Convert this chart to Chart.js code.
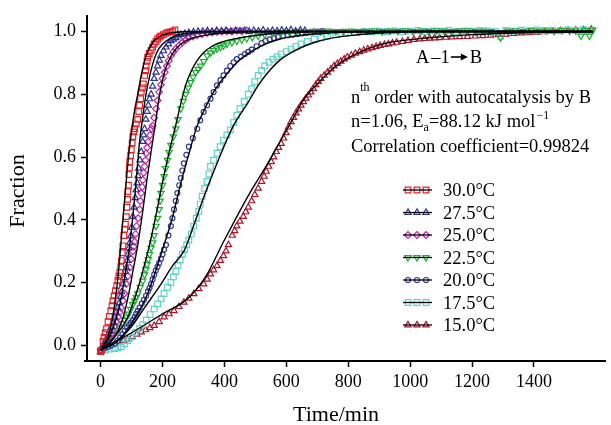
<!DOCTYPE html>
<html><head><meta charset="utf-8">
<script src="https://cdn.jsdelivr.net/npm/chart.js@4/dist/chart.umd.min.js"></script>
<style>html,body{margin:0;padding:0;background:#fff;}#wrap{width:611px;height:425px;position:relative;}</style>
</head><body><div id="wrap"><canvas id="c" width="611" height="425"></canvas></div>
<script>
// ---- data: [time/min, fraction] ----
const s30 = [[0,-0.02],[3,-0.016],[8,0.012],[11,0.026],[15,0.04],[19,0.053],[24,0.075],[28,0.092],[33,0.11],[37,0.126],[40,0.142],[44,0.158],[48,0.174],[52,0.19],[56,0.206],[59,0.22],[62,0.232],[65,0.25],[67,0.27],[70,0.295],[72,0.317],[75,0.35],[78,0.37],[80,0.386],[83,0.41],[85,0.44],[87,0.465],[88,0.49],[90,0.51],[91,0.544],[93,0.565],[94,0.585],[97,0.605],[99,0.623],[102,0.645],[104,0.665],[107,0.68],[110,0.69],[115,0.705],[120,0.72],[123,0.745],[126,0.765],[129,0.786],[131,0.807],[135,0.82],[138,0.833],[142,0.86],[145,0.875],[147,0.89],[150,0.905],[152,0.918],[157,0.93],[163,0.94],[168,0.95],[173,0.96],[179,0.968],[184,0.976],[190,0.982],[195,0.986],[203,0.99],[211,0.995],[218,0.997],[225,0.999],[232,1.0],[240,1.005]];
const s275 = [[0,-0.02],[5,-0.01],[10,0],[15,0.012],[20,0.022],[25,0.035],[30,0.047],[35,0.06],[40,0.073],[46,0.09],[50,0.105],[55,0.12],[60,0.135],[65,0.155],[68,0.17],[72,0.195],[76,0.215],[80,0.235],[83,0.248],[86,0.27],[88,0.29],[91,0.31],[94,0.327],[97,0.348],[100,0.375],[104,0.41],[108,0.44],[112,0.47],[115,0.495],[118,0.517],[121,0.54],[123,0.564],[127,0.59],[131,0.617],[136,0.649],[139,0.67],[142,0.69],[146,0.72],[150,0.745],[154,0.765],[158,0.785],[163,0.8],[168,0.825],[173,0.85],[179,0.87],[184,0.89],[190,0.908],[195,0.923],[203,0.938],[211,0.95],[219,0.96],[227,0.97],[235,0.975],[243,0.98],[251,0.985],[259,0.99],[272,0.993],[285,0.996],[300,0.998],[315,1.0],[330,1.0],[345,1.002],[360,1.0],[375,1.003],[390,1.001],[405,1.003],[420,1.0],[435,1.002],[450,1.001],[465,1.003],[480,1.0],[495,1.003],[510,1.001],[525,1.004],[540,1.0],[555,1.003],[570,1.001],[585,1.004],[600,1.002],[615,1.005],[630,1.001],[645,1.004],[660,1.003]];
const s25 = [[0,-0.015],[7,-0.005],[14,0.005],[20,0.015],[27,0.025],[34,0.035],[40,0.047],[46,0.062],[51,0.075],[56,0.09],[61,0.105],[66,0.12],[72,0.142],[77,0.165],[83,0.195],[88,0.22],[94,0.248],[99,0.275],[104,0.3],[107,0.315],[110,0.33],[113,0.355],[116,0.38],[121,0.405],[126,0.433],[128,0.46],[131,0.485],[134,0.505],[136,0.527],[139,0.55],[142,0.57],[145,0.59],[147,0.612],[150,0.63],[154,0.649],[160,0.67],[165,0.69],[168,0.7],[173,0.725],[179,0.754],[184,0.78],[189,0.807],[195,0.83],[200,0.85],[207,0.87],[214,0.89],[220,0.907],[227,0.923],[235,0.935],[243,0.945],[253,0.955],[264,0.965],[275,0.973],[285,0.98],[298,0.984],[312,0.988],[328,0.992],[344,0.995],[360,0.997],[376,0.999],[392,1.0],[408,1.001],[424,1.0],[440,1.002],[456,1.001],[472,1.003]];
const s225 = [[0,-0.015],[10,-0.005],[17,0.005],[24,0.016],[32,0.025],[40,0.033],[51,0.047],[60,0.058],[70,0.07],[78,0.08],[84,0.09],[90,0.1],[97,0.115],[104,0.13],[110,0.142],[115,0.153],[120,0.165],[128,0.185],[136,0.205],[142,0.225],[146,0.242],[150,0.258],[154,0.274],[158,0.29],[163,0.31],[168,0.327],[173,0.35],[179,0.38],[184,0.405],[189,0.433],[192,0.46],[195,0.485],[200,0.51],[205,0.538],[210,0.564],[216,0.59],[221,0.615],[227,0.638],[235,0.665],[243,0.69],[250,0.72],[259,0.754],[267,0.778],[275,0.8],[283,0.82],[291,0.838],[299,0.855],[307,0.87],[315,0.88],[323,0.89],[333,0.905],[344,0.923],[355,0.932],[365,0.94],[376,0.945],[387,0.95],[397,0.955],[408,0.96],[424,0.965],[440,0.97],[456,0.974],[472,0.978],[490,0.982],[509,0.986],[530,0.99],[555,0.994],[583,0.997],[610,0.998],[635,1.0],[660,0.999],[685,1.001],[710,1.0],[735,1.002],[760,1.0],[785,1.001],[810,1.002],[835,1.0],[860,1.001],[885,1.003],[910,1.0],[935,1.002],[960,1.001],[985,1.003],[1010,1.0],[1035,1.002],[1060,1.001],[1085,1.003],[1110,1.002],[1135,1.0],[1160,1.002],[1185,1.003],[1210,1.001],[1235,1.002],[1260,1.0],[1292,0.98],[1315,1.002],[1340,1.003],[1365,1.001],[1390,1.004],[1415,1.002],[1440,1.003],[1465,1.001],[1490,1.004],[1515,1.002],[1535,1.003],[1552,0.986],[1566,1.004],[1579,0.986],[1590,1.005]];
const s20 = [[0,-0.015],[12,-0.01],[25,-0.005],[35,0],[46,0.005],[55,0.015],[63,0.025],[70,0.035],[78,0.047],[85,0.057],[92,0.065],[98,0.072],[104,0.08],[110,0.09],[115,0.1],[120,0.11],[126,0.12],[133,0.133],[140,0.145],[147,0.158],[153,0.172],[158,0.183],[163,0.195],[168,0.21],[173,0.225],[178,0.238],[184,0.25],[189,0.262],[195,0.276],[200,0.29],[205,0.305],[211,0.32],[219,0.35],[227,0.38],[232,0.405],[237,0.433],[243,0.46],[248,0.485],[254,0.51],[259,0.533],[264,0.557],[269,0.58],[277,0.607],[285,0.633],[298,0.66],[312,0.69],[322,0.717],[333,0.744],[344,0.765],[355,0.786],[365,0.807],[376,0.828],[387,0.845],[397,0.86],[408,0.875],[419,0.89],[430,0.902],[440,0.912],[453,0.92],[466,0.928],[477,0.935],[488,0.942],[504,0.953],[520,0.963],[533,0.97],[546,0.975],[560,0.979],[573,0.983],[589,0.986],[605,0.988],[621,0.99],[637,0.992],[651,0.994],[665,0.996],[678,0.998],[690,1.0],[703,1.0],[715,1.001]];
const s175 = [[0,-0.02],[15,-0.015],[30,-0.012],[45,-0.01],[56,-0.008],[67,-0.005],[78,0.005],[88,0.015],[99,0.026],[112,0.04],[126,0.053],[136,0.066],[147,0.08],[160,0.098],[173,0.116],[184,0.132],[195,0.148],[205,0.165],[216,0.185],[227,0.2],[235,0.218],[243,0.236],[250,0.255],[257,0.272],[264,0.29],[271,0.305],[278,0.32],[285,0.335],[293,0.355],[301,0.38],[309,0.405],[317,0.427],[322,0.45],[328,0.475],[336,0.5],[344,0.522],[350,0.546],[355,0.57],[365,0.59],[376,0.612],[386,0.633],[397,0.654],[408,0.67],[419,0.686],[430,0.71],[440,0.733],[450,0.754],[464,0.777],[477,0.8],[488,0.817],[498,0.84],[509,0.86],[520,0.876],[530,0.89],[544,0.902],[557,0.912],[570,0.92],[583,0.928],[600,0.936],[615,0.944],[631,0.952],[647,0.96],[668,0.968],[690,0.976],[712,0.981],[733,0.986],[760,0.99],[790,0.994],[820,0.997],[850,1.0],[875,0.999],[900,1.001],[925,1.0],[950,1.002],[975,1.0],[1000,1.001],[1025,1.003],[1050,1.0],[1075,1.002],[1100,1.001],[1125,1.003],[1150,1.0],[1175,1.002],[1200,1.001],[1225,1.003],[1250,1.002],[1275,1.0],[1292,0.985],[1310,1.003],[1335,1.001],[1360,1.004],[1385,1.002],[1410,1.005],[1435,1.003],[1460,1.004],[1485,1.002],[1510,1.005],[1535,1.003],[1560,1.006],[1585,1.004]];
const s15 = [[0,-0.02],[14,-0.005],[30,0],[46,0.005],[60,0.01],[74,0.015],[88,0.02],[102,0.027],[117,0.035],[131,0.042],[145,0.049],[159,0.056],[173,0.063],[189,0.075],[205,0.09],[221,0.1],[237,0.11],[253,0.123],[269,0.137],[285,0.15],[301,0.164],[317,0.18],[333,0.195],[344,0.21],[355,0.227],[365,0.24],[376,0.253],[387,0.27],[397,0.285],[405,0.3],[413,0.32],[425,0.35],[433,0.365],[440,0.38],[450,0.395],[461,0.41],[469,0.425],[477,0.44],[488,0.46],[498,0.48],[509,0.5],[520,0.522],[528,0.538],[535,0.554],[543,0.57],[551,0.585],[559,0.6],[567,0.617],[575,0.63],[583,0.643],[591,0.66],[599,0.677],[607,0.695],[615,0.712],[623,0.726],[631,0.74],[639,0.753],[647,0.765],[655,0.776],[663,0.787],[671,0.797],[679,0.807],[687,0.818],[695,0.83],[703,0.84],[711,0.85],[722,0.86],[733,0.87],[744,0.88],[754,0.89],[765,0.898],[776,0.905],[787,0.912],[797,0.918],[810,0.924],[823,0.93],[837,0.935],[850,0.94],[863,0.944],[877,0.948],[890,0.952],[903,0.955],[917,0.958],[930,0.96],[943,0.963],[956,0.965],[975,0.968],[993,0.971],[1012,0.974],[1031,0.976],[1047,0.977],[1063,0.978],[1079,0.979],[1095,0.98],[1115,0.981],[1135,0.982],[1160,0.983],[1185,0.984],[1210,0.985],[1235,0.986],[1260,0.988],[1285,0.99],[1310,0.991],[1335,0.993],[1360,0.995],[1385,0.996],[1410,0.997],[1435,0.999],[1460,1.0],[1485,1.002],[1510,1.003],[1535,1.004],[1560,1.005],[1585,1.007]];

// fitted curves (model)
const fit30 = [[0,-0.015],[20,0.02],[35,0.069],[51,0.174],[62,0.28],[70,0.38],[80,0.49],[90,0.6],[101,0.69],[110,0.75],[120,0.8],[131,0.86],[147,0.923],[168,0.965],[195,0.986],[237,0.997],[300,1.0],[1590,1.0]];
const fit275 = [[0,-0.015],[30,0.03],[60,0.12],[80,0.23],[94,0.32],[110,0.47],[125,0.64],[135,0.72],[145,0.79],[160,0.865],[180,0.93],[200,0.96],[240,0.985],[300,0.997],[400,1.0],[1590,1.0]];
const fit25 = [[0,-0.015],[40,0.02],[70,0.08],[90,0.16],[105,0.24],[120,0.32],[135,0.42],[150,0.53],[165,0.63],[179,0.72],[189,0.79],[200,0.845],[211,0.885],[230,0.925],[248,0.95],[275,0.97],[301,0.98],[350,0.99],[420,0.997],[500,1.0],[1590,1.0]];
const fit225 = [[0,-0.015],[40,0.02],[88,0.09],[120,0.18],[140,0.25],[158,0.32],[180,0.42],[200,0.52],[220,0.61],[240,0.69],[259,0.77],[275,0.83],[291,0.87],[310,0.905],[333,0.933],[360,0.953],[387,0.965],[450,0.98],[493,0.986],[580,0.995],[700,1.0],[1590,1.0]];
const fit20 = [[0,-0.015],[50,0.01],[100,0.07],[150,0.16],[200,0.305],[230,0.4],[260,0.52],[285,0.61],[312,0.7],[335,0.75],[355,0.79],[380,0.83],[408,0.865],[450,0.91],[493,0.94],[540,0.963],[583,0.977],[640,0.987],[690,0.992],[800,0.998],[1000,1.0],[1590,1.0]];
const fit175 = [[0,-0.015],[60,0.02],[100,0.06],[142,0.12],[195,0.195],[230,0.25],[269,0.3],[280,0.325],[300,0.38],[340,0.49],[380,0.59],[429,0.7],[477,0.775],[509,0.828],[541,0.87],[583,0.912],[637,0.944],[690,0.965],[743,0.978],[797,0.986],[900,0.995],[1050,1.0],[1590,1.0]];
const fit15 = [[0,-0.015],[100,0.04],[200,0.1],[280,0.148],[340,0.22],[397,0.33],[440,0.41],[479,0.48],[540,0.58],[583,0.655],[620,0.72],[658,0.786],[711,0.844],[760,0.89],[850,0.94],[924,0.963],[1063,0.98],[1200,0.99],[1400,0.997],[1590,1.0]];

const seriesLabels = ['30.0°C','27.5°C','25.0°C','22.5°C','20.0°C','17.5°C','15.0°C'];
const xTicks = [0,200,400,600,800,1000,1200,1400];
const yTicks = [0.0,0.2,0.4,0.6,0.8,1.0];

const seriesData = [s30,s275,s25,s225,s20,s175,s15];
const fitData = [fit30,fit275,fit25,fit225,fit20,fit175,fit15];
const styles = [
  {color:'#E8202A', shape:'rect', r:4.0, rot:0},
  {color:'#2B318F', shape:'triangle', r:3.6, rot:0},
  {color:'#C41FA6', shape:'rectRot', r:3.4, rot:0},
  {color:'#14B02E', shape:'triangle', r:3.6, rot:180},
  {color:'#2F3A96', shape:'circle', r:2.5, rot:0},
  {color:'#5ED2CB', shape:'rect', r:4.0, rot:0},
  {color:'#A8142A', shape:'triangle', r:3.6, rot:0}
];

const datasets = [];
seriesData.forEach((s,i)=>{
  const st = styles[i];
  datasets.push({
    label: seriesLabels[i],
    data: s.map(p=>({x:p[0], y:p[1]})),
    showLine:false, order:1,
    pointStyle: st.shape, pointRadius: st.r, pointRotation: st.rot,
    pointBorderColor: st.color, pointBackgroundColor:'rgba(0,0,0,0)',
    pointBorderWidth: 1.2, borderColor: st.color, backgroundColor:'rgba(0,0,0,0)'
  });
});
fitData.forEach((s,i)=>{
  datasets.push({
    label: 'fit ' + seriesLabels[i],
    data: s.map(p=>({x:p[0], y:p[1]})),
    showLine:true, order:0, pointRadius:0, borderColor:'#000', borderWidth:1.4,
    cubicInterpolationMode:'monotone', fill:false, backgroundColor:'#000'
  });
});

const FONT = '"Liberation Serif", "Times New Roman", serif';

function drawMarker(ctx, st, x, y){
  if (Chart.helpers && Chart.helpers.drawPoint) {
    ctx.save();
    ctx.strokeStyle = st.color; ctx.fillStyle = 'rgba(0,0,0,0)'; ctx.lineWidth = 1.2;
    Chart.helpers.drawPoint(ctx, {pointStyle: st.shape, radius: st.r, rotation: st.rot, borderWidth: 1.2}, x, y);
    ctx.restore();
  }
}

const overlay = {
  id:'overlay',
  afterDraw(chart){
    const ctx = chart.ctx;
    ctx.save();
    ctx.fillStyle = '#000';
    // axis titles
    ctx.font = '22px ' + FONT;
    ctx.textAlign = 'center'; ctx.textBaseline = 'middle';
    ctx.fillText('Time/min', 336, 415);
    ctx.save(); ctx.translate(18.5, 191); ctx.rotate(-Math.PI/2); ctx.fillText('Fraction', 0, 0); ctx.restore();
    // annotation
    ctx.textAlign = 'left'; ctx.textBaseline = 'alphabetic';
    ctx.font = '18.5px ' + FONT;
    // reaction scheme A –1→ B
    let ax = 416;
    ctx.fillText('A', ax, 63); ax += ctx.measureText('A').width + 2;
    ctx.fillText('–1', ax, 63); ax += ctx.measureText('–1').width + 1;
    ctx.strokeStyle = '#000'; ctx.lineWidth = 1.6;
    ctx.beginPath(); ctx.moveTo(ax, 57); ctx.lineTo(ax + 12, 57); ctx.stroke();
    ctx.beginPath(); ctx.moveTo(ax + 17, 57); ctx.lineTo(ax + 10, 53.5); ctx.lineTo(ax + 10, 60.5); ctx.closePath(); ctx.fill();
    ax += 19;
    ctx.fillText('B', ax, 63);
    let x = 351;
    ctx.fillText('n', x, 103); x += ctx.measureText('n').width;
    ctx.font = '12px ' + FONT; ctx.fillText('th', x, 91); x += ctx.measureText('th').width;
    ctx.font = '18.5px ' + FONT; ctx.fillText(' order with autocatalysis by B', x, 103);
    x = 351;
    ctx.fillText('n=1.06, E', x, 127); x += ctx.measureText('n=1.06, E').width;
    ctx.font = '12px ' + FONT; ctx.fillText('a', x, 131); x += ctx.measureText('a').width;
    ctx.font = '18.5px ' + FONT; ctx.fillText('=88.12 kJ mol', x, 127); x += ctx.measureText('=88.12 kJ mol').width;
    ctx.font = '12px ' + FONT; ctx.fillText('−1', x+1, 119);
    ctx.font = '18.5px ' + FONT;
    ctx.fillText('Correlation coefficient=0.99824', 351, 152);
    // legend
    const y0 = 190, dy = 22.5;
    seriesLabels.forEach((lab,i)=>{
      const y = y0 + i*dy;
      [408,417,426].forEach(mx=>drawMarker(ctx, styles[i], mx, y));
      ctx.strokeStyle = '#000'; ctx.lineWidth = 1.3;
      ctx.beginPath(); ctx.moveTo(403, y); ctx.lineTo(432, y); ctx.stroke();
      ctx.fillStyle = '#000';
      ctx.font = '18.5px ' + FONT;
      ctx.fillText(lab, 443, y + 6);
    });
    // small overhang of x axis to the left
    ctx.strokeStyle = '#000'; ctx.lineWidth = 2;
    ctx.beginPath(); ctx.moveTo(84, chart.chartArea.bottom); ctx.lineTo(88, chart.chartArea.bottom); ctx.stroke();
    ctx.restore();
  }
};

new Chart(document.getElementById('c'), {
  type:'scatter',
  data:{datasets},
  options:{
    responsive:false, animation:false, devicePixelRatio:1,
    layout:{padding:{top:13,left:0,right:0,bottom:0}},
    plugins:{legend:{display:false}, tooltip:{enabled:false}},
    scales:{
      x:{
        type:'linear', min:-44, max:1632,
        afterBuildTicks(scale){ scale.ticks = xTicks.map(v=>({value:v})); },
        afterFit(scale){ scale.height = 64; },
        grid:{display:true, drawOnChartArea:false, drawTicks:true, tickLength:6, tickColor:'#000', tickWidth:1.5},
        border:{display:true, color:'#000', width:2},
        ticks:{color:'#000', padding:4, maxRotation:0, autoSkip:false, font:{family:FONT, size:18}, callback:v=>String(v)}
      },
      y:{
        type:'linear', min:-0.05, max:1.05,
        afterBuildTicks(scale){ scale.ticks = yTicks.map(v=>({value:v})); },
        afterFit(scale){ scale.width = 87; },
        grid:{display:true, drawOnChartArea:false, drawTicks:true, tickLength:6, tickColor:'#000', tickWidth:1.5},
        border:{display:true, color:'#000', width:2},
        ticks:{color:'#000', padding:5, autoSkip:false, font:{family:FONT, size:18}, callback:v=>Number(v).toFixed(1)}
      }
    }
  },
  plugins:[overlay]
});
</script></body></html>
